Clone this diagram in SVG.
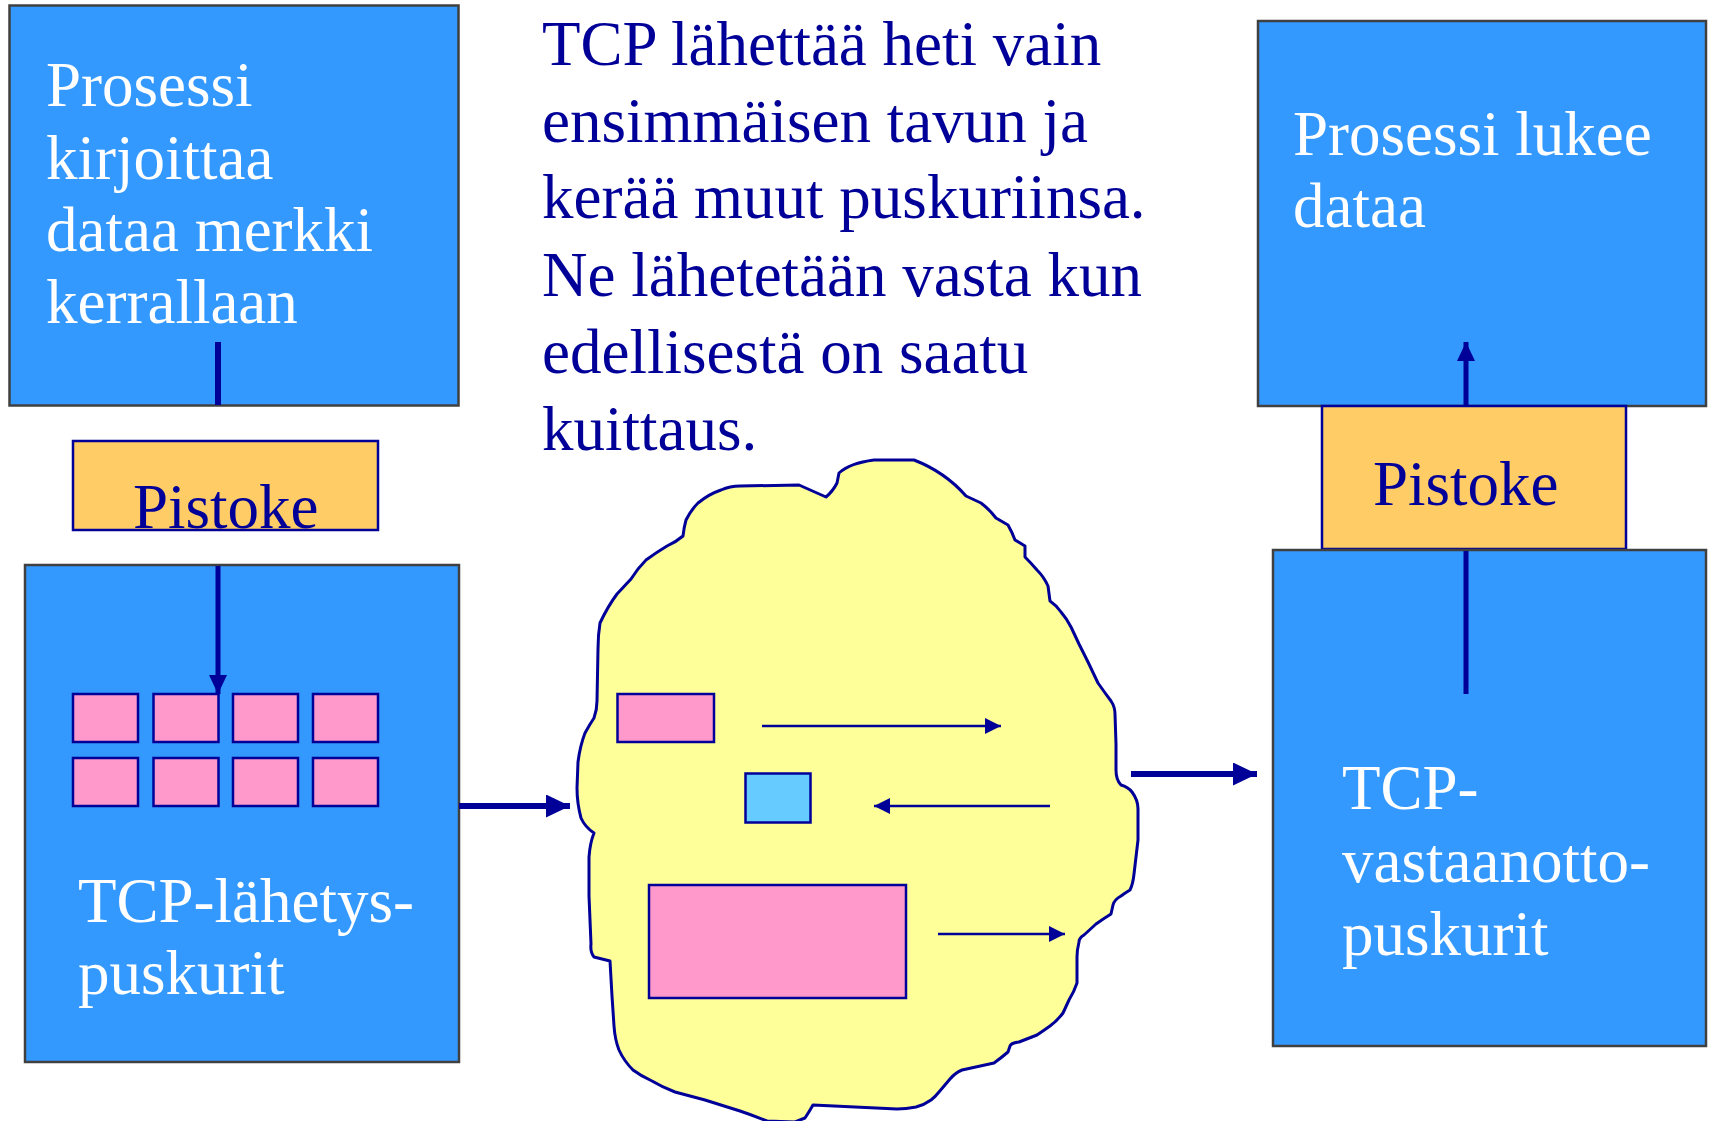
<svg xmlns="http://www.w3.org/2000/svg" width="1710" height="1121" viewBox="0 0 1710 1121">
<defs>
<style>
.box{fill:#3399FF;stroke:#404040;stroke-width:2.5}
.sock{fill:#FFCC66;stroke:#000099;stroke-width:2.5}
.pink{fill:#FF99CC;stroke:#000099;stroke-width:2.5}
.wt{font-family:"Liberation Serif","Times New Roman",serif;font-size:63px;fill:#FFFFFF}
.nt{font-family:"Liberation Serif","Times New Roman",serif;font-size:63px;fill:#000099}
.ln{stroke:#000099;fill:none}
</style>
<marker id="hL" markerUnits="userSpaceOnUse" markerWidth="24" markerHeight="23" refX="24" refY="11.5" orient="auto"><path d="M0,0 L24,11.5 L0,23 z" fill="#000099"/></marker>
<marker id="hM" markerUnits="userSpaceOnUse" markerWidth="19" markerHeight="18" refX="19" refY="9" orient="auto"><path d="M0,0 L19,9 L0,18 z" fill="#000099"/></marker>
<marker id="hS" markerUnits="userSpaceOnUse" markerWidth="16" markerHeight="16" refX="16" refY="8" orient="auto"><path d="M0,0 L16,8 L0,16 z" fill="#000099"/></marker>
</defs>
<rect width="1710" height="1121" fill="#FFFFFF"/>

<g id="process-writer">
<rect class="box" x="9.5" y="5.5" width="449" height="400"/>
<text class="wt" x="46" y="106">Prosessi</text>
<text class="wt" x="46" y="179">kirjoittaa</text>
<text class="wt" x="46" y="251">dataa merkki</text>
<text class="wt" x="46" y="323">kerrallaan</text>
</g>

<g id="socket-left">
<rect class="sock" x="73" y="441" width="305" height="89"/>
<text class="nt" x="133" y="528">Pistoke</text>
</g>

<g id="send-buffers">
<rect class="box" x="25" y="565" width="434" height="497"/>
<rect class="pink" x="73" y="694" width="65" height="48"/>
<rect class="pink" x="153.5" y="694" width="65" height="48"/>
<rect class="pink" x="233" y="694" width="65" height="48"/>
<rect class="pink" x="313" y="694" width="65" height="48"/>
<rect class="pink" x="73" y="758" width="65" height="48"/>
<rect class="pink" x="153.5" y="758" width="65" height="48"/>
<rect class="pink" x="233" y="758" width="65" height="48"/>
<rect class="pink" x="313" y="758" width="65" height="48"/>
<text class="wt" x="78" y="922">TCP-lähetys-</text>
<text class="wt" x="78" y="994">puskurit</text>
</g>

<g id="caption">
<text class="nt" x="542" y="65">TCP lähettää heti vain</text>
<text class="nt" x="542" y="142">ensimmäisen tavun ja</text>
<text class="nt" x="542" y="218">kerää muut puskuriinsa.</text>
<text class="nt" x="542" y="296">Ne lähetetään vasta kun</text>
<text class="nt" x="542" y="373">edellisestä on saatu</text>
<text class="nt" x="542" y="450">kuittaus.</text>
</g>

<g id="network">
<path fill="#FFFF99" stroke="#000099" stroke-width="3" stroke-linejoin="round" d="M839,473 Q850,463 874,460 L914,460 Q945,472 966,496 L981,503 Q990,510 996,518 L1008,525 Q1012,532 1015,540 L1025,546 L1025,557 Q1031,563 1037,570 Q1044,577 1048,586 L1050,601 Q1056,605 1061,612 Q1067,619 1071,627 L1079,644 Q1083,652 1088,662 L1098,683 Q1105,693 1111,701 Q1115,707 1115,714 L1116,744 L1116,770 Q1116,780 1121,785 Q1128,787 1132,792 Q1138,800 1138,809 L1138,840 L1134,874 Q1133,884 1130,890 Q1125,893 1121,896 Q1114,900 1113,905 L1111,914 Q1103,919 1096,924 L1084,935 Q1079,938 1079,942 Q1077,950 1077,957 L1077,983 Q1074,992 1069,1000 L1063,1013 Q1057,1021 1050,1026 Q1043,1031 1037,1035 L1019,1042 Q1011,1043 1010,1046 L1008,1052 Q1001,1058 994,1063 L962,1070 Q955,1073 950,1079 L939,1092 Q935,1097 931,1100 Q924,1105 916,1107 Q906,1109 897,1109 L813,1105 Q809,1112 805,1118 L795,1122 L767,1121 Q752,1115 740,1111 L705,1100 L675,1092 Q662,1087 652,1081 Q641,1076 633,1070 Q624,1061 619,1050 Q615,1040 614,1026 L612,996 L610,961 Q602,959 594,957 Q590,952 591,944 L589,896 L589,857 Q590,843 594,833 Q585,827 581,818 Q577,803 577,788 L578,762 Q580,746 585,733 Q590,724 594,718 Q597,710 597,701 L598,649 Q598,635 600,623 Q608,606 617,594 L631,579 Q638,568 646,560 Q657,552 667,546 Q676,542 683,536 Q684,527 686,520 Q691,510 698,503 Q709,494 721,490 Q730,486 740,486 L799,485 L826,497 Q833,491 837,483 Z"/>
<rect class="pink" x="617.5" y="694" width="96.5" height="48"/>
<rect fill="#66CCFF" stroke="#000099" stroke-width="2.5" x="745.5" y="773.5" width="65" height="49"/>
<rect class="pink" x="649" y="885" width="257" height="113"/>
<line class="ln" stroke-width="2.5" x1="762" y1="726" x2="1001" y2="726" marker-end="url(#hS)"/>
<line class="ln" stroke-width="2.5" x1="1050" y1="806" x2="874" y2="806" marker-end="url(#hS)"/>
<line class="ln" stroke-width="2.5" x1="938" y1="934" x2="1065" y2="934" marker-end="url(#hS)"/>
</g>

<g id="process-reader">
<rect class="box" x="1258" y="21" width="448" height="385"/>
<text class="wt" x="1293" y="155">Prosessi lukee</text>
<text class="wt" x="1293" y="227">dataa</text>
</g>

<g id="socket-right">
<rect class="sock" x="1322" y="406" width="304" height="143"/>
<text class="nt" x="1373" y="505">Pistoke</text>
</g>

<g id="receive-buffers">
<rect class="box" x="1273" y="550" width="433" height="496"/>
<text class="wt" x="1342" y="809">TCP-</text>
<text class="wt" x="1342" y="882">vastaanotto-</text>
<text class="wt" x="1342" y="955">puskurit</text>
</g>

<g id="connectors">
<line class="ln" stroke-width="6" x1="218" y1="342" x2="218" y2="405"/>
<line class="ln" stroke-width="5" x1="218" y1="566" x2="218" y2="694" marker-end="url(#hM)"/>
<line class="ln" stroke-width="6" x1="459" y1="806" x2="570" y2="806" marker-end="url(#hL)"/>
<line class="ln" stroke-width="6" x1="1131" y1="774" x2="1257" y2="774" marker-end="url(#hL)"/>
<line class="ln" stroke-width="5" x1="1466" y1="551" x2="1466" y2="694"/>
<line class="ln" stroke-width="5" x1="1466" y1="405" x2="1466" y2="342" marker-end="url(#hM)"/>
</g>
</svg>
